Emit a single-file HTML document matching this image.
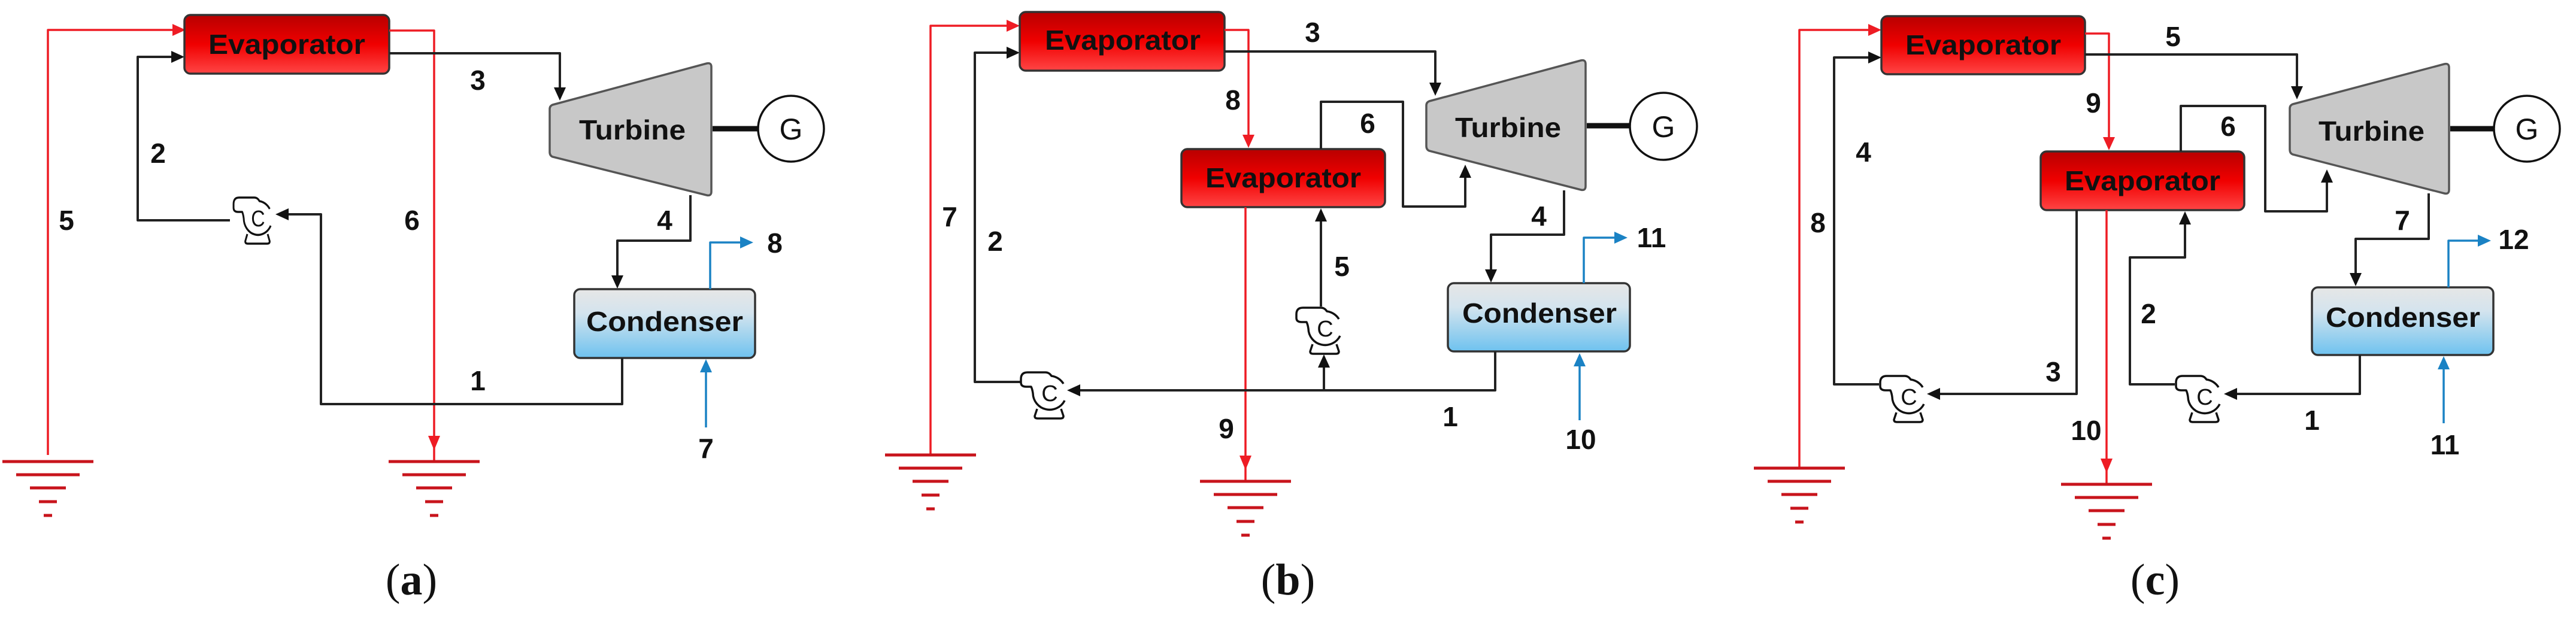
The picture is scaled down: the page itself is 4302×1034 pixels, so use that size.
<!DOCTYPE html>
<html><head><meta charset="utf-8"><style>html,body{margin:0;padding:0;background:#fff}svg{display:block}</style></head>
<body>
<svg width="4302" height="1034" viewBox="0 0 4302 1034" xmlns="http://www.w3.org/2000/svg" font-family="Liberation Sans, sans-serif">
<defs>
<linearGradient id="ev" x1="0" y1="0" x2="0" y2="1"><stop offset="0" stop-color="#b80000"/><stop offset="0.5" stop-color="#f00000"/><stop offset="1" stop-color="#ff4545"/></linearGradient>
<linearGradient id="cd" x1="0" y1="0" x2="0" y2="1"><stop offset="0" stop-color="#e6e6e6"/><stop offset="0.35" stop-color="#d4e4ee"/><stop offset="1" stop-color="#6ec2ef"/></linearGradient>
<g id="pump" fill="#fff" stroke="#111" stroke-width="3.5" stroke-linejoin="round">
<path d="M -20 26 L -24 38 Q -24 42 -19 42 L 19 42 Q 24 42 24 38 L 20 26"/>
<path d="M 24 -16 A 28 28 0 0 0 4 -29 Q 0 -35 -6 -35 L -36 -35 Q -47 -35 -47 -24 L -47 -18 Q -47 -11 -38 -11 L -30 -11 Q -28 -7 -27 0 A 28 28 0 0 0 26 12"/>
<text x="1" y="13" font-size="38" text-anchor="middle" stroke="none" fill="#111">C</text>
</g>
<g id="gnd" stroke="#c8141c" stroke-width="5">
<line x1="-76" y1="0" x2="76" y2="0"/><line x1="-53" y1="22" x2="53" y2="22"/><line x1="-30" y1="44" x2="30" y2="44"/><line x1="-15" y1="67" x2="15" y2="67"/><line x1="-7" y1="90" x2="7" y2="90"/>
</g>
</defs>
<style>
.k{fill:none;stroke:#222;stroke-width:4;stroke-linejoin:round}
.r{fill:none;stroke:#ee1c24;stroke-width:3.5;stroke-linejoin:round}
.b{fill:none;stroke:#1a82c4;stroke-width:3.5;stroke-linejoin:round}
.lbl{font-weight:bold;font-size:46px;fill:#111;text-anchor:middle}
.box{font-weight:bold;font-size:46px;fill:#111}
.cap{font-family:"Liberation Serif",serif;font-size:74px;fill:#111;text-anchor:middle}
</style>

<!-- ============ PANEL A ============ -->
<polyline class="r" points="80,760 80,50 290,50"/>
<polygon points="310,50 288,40 288,60" fill="#ee1c24"/>
<polyline class="k" points="384,368 230,368 230,95 290,95"/>
<polygon points="308,95 286,85 286,105" fill="#111"/>
<rect x="308" y="25" width="342" height="98" rx="10" fill="url(#ev)" stroke="#333" stroke-width="3.5"/>
<text class="box" x="348" y="90" textLength="262" lengthAdjust="spacingAndGlyphs">Evaporator</text>
<polyline class="r" points="650,51 725,51 725,771"/>
<polygon points="725,752 715,728 735,728" fill="#ee1c24"/>
<use href="#gnd" x="725" y="771"/>
<use href="#gnd" x="80" y="771"/>
<polyline class="k" points="650,89 935,89 935,150"/>
<polygon points="935,168 925,146 945,146" fill="#111"/>
<path d="M 923 175 L 1180 106 Q 1188 104 1188 112 L 1188 320 Q 1188 328 1180 326 L 923 262 Q 918 260 918 254 L 918 182 Q 918 177 923 175 Z" fill="#c8c8c8" stroke="#555" stroke-width="3.5"/>
<text class="box" x="967" y="233" textLength="178" lengthAdjust="spacingAndGlyphs">Turbine</text>
<line x1="1190" y1="215" x2="1266" y2="215" stroke="#111" stroke-width="9"/>
<circle cx="1321" cy="215" r="55" fill="#fff" stroke="#111" stroke-width="3.5"/>
<text x="1321" y="233" font-size="50" text-anchor="middle" fill="#111">G</text>
<polyline class="k" points="1153,326 1153,402 1031,402 1031,462"/>
<polygon points="1031,482 1021,460 1041,460" fill="#111"/>
<rect x="959" y="483" width="302" height="115" rx="10" fill="url(#cd)" stroke="#333" stroke-width="3.5"/>
<text class="box" x="979" y="553" textLength="262" lengthAdjust="spacingAndGlyphs">Condenser</text>
<polyline class="b" points="1186,483 1186,405 1240,405"/>
<polygon points="1258,405 1236,395 1236,415" fill="#1a82c4"/>
<polyline class="b" points="1179,714 1179,618"/>
<polygon points="1179,600 1169,622 1189,622" fill="#1a82c4"/>
<polyline class="k" points="1039,598 1039,675 536,675 536,358 478,358"/>
<polygon points="460,358 482,348 482,368" fill="#111"/>
<use href="#pump" transform="translate(430,365) scale(0.85,1)"/>
<text class="lbl" x="798" y="150">3</text>
<text class="lbl" x="264" y="272">2</text>
<text class="lbl" x="111" y="384">5</text>
<text class="lbl" x="688" y="384">6</text>
<text class="lbl" x="1110" y="384">4</text>
<text class="lbl" x="798" y="652">1</text>
<text class="lbl" x="1294" y="422">8</text>
<text class="lbl" x="1179" y="765">7</text>
<text class="cap" x="687" y="993">(<tspan font-weight="bold">a</tspan>)</text>

<!-- ============ PANEL B ============ -->
<polyline class="r" points="1554,760 1554,43 1685,43"/>
<polygon points="1703,43 1681,33 1681,53" fill="#ee1c24"/>
<polyline class="k" points="1712,638 1628,638 1628,88 1685,88"/>
<polygon points="1703,88 1681,78 1681,98" fill="#111"/>
<rect x="1703" y="20" width="342" height="98" rx="10" fill="url(#ev)" stroke="#333" stroke-width="3.5"/>
<text class="box" x="1745" y="83" textLength="260" lengthAdjust="spacingAndGlyphs">Evaporator</text>
<polyline class="r" points="2045,50 2085,50 2085,228"/>
<polygon points="2085,247 2075,225 2095,225" fill="#ee1c24"/>
<rect x="1973" y="249" width="340" height="97" rx="10" fill="url(#ev)" stroke="#333" stroke-width="3.5"/>
<text class="box" x="2013" y="313" textLength="260" lengthAdjust="spacingAndGlyphs">Evaporator</text>
<polyline class="r" points="2080,346 2080,804"/>
<polygon points="2080,785 2070,761 2090,761" fill="#ee1c24"/>
<use href="#gnd" x="1554" y="760"/>
<use href="#gnd" x="2080" y="804"/>
<polyline class="k" points="2045,86 2397,86 2397,142"/>
<polygon points="2397,160 2387,138 2407,138" fill="#111"/>
<path d="M 2387 169 L 2640 101 Q 2648 99 2648 107 L 2648 311 Q 2648 319 2640 317 L 2387 252 Q 2382 250 2382 244 L 2382 176 Q 2382 171 2387 169 Z" fill="#c8c8c8" stroke="#555" stroke-width="3.5"/>
<text class="box" x="2430" y="229" textLength="177" lengthAdjust="spacingAndGlyphs">Turbine</text>
<line x1="2650" y1="210" x2="2724" y2="210" stroke="#111" stroke-width="9"/>
<circle cx="2778" cy="211" r="56" fill="#fff" stroke="#111" stroke-width="3.5"/>
<text x="2778" y="229" font-size="50" text-anchor="middle" fill="#111">G</text>
<polyline class="k" points="2206,249 2206,170 2343,170 2343,345 2447,345 2447,294"/>
<polygon points="2447,275 2437,297 2457,297" fill="#111"/>
<polyline class="k" points="2612,318 2612,392 2490,392 2490,452"/>
<polygon points="2490,472 2480,450 2500,450" fill="#111"/>
<rect x="2418" y="473" width="304" height="114" rx="10" fill="url(#cd)" stroke="#333" stroke-width="3.5"/>
<text class="box" x="2442" y="539" textLength="258" lengthAdjust="spacingAndGlyphs">Condenser</text>
<polyline class="b" points="2645,473 2645,397 2700,397"/>
<polygon points="2718,397 2696,387 2696,407" fill="#1a82c4"/>
<polyline class="b" points="2638,702 2638,608"/>
<polygon points="2638,590 2628,612 2648,612" fill="#1a82c4"/>
<polyline class="k" points="2497,587 2497,652 1800,652"/>
<polygon points="1782,652 1804,642 1804,662" fill="#111"/>
<polyline class="k" points="2211,652 2211,610"/>
<polygon points="2211,592 2201,614 2221,614" fill="#111"/>
<polyline class="k" points="2206,512 2206,368"/>
<polygon points="2206,348 2196,370 2216,370" fill="#111"/>
<use href="#pump" transform="translate(2212,549)"/>
<use href="#pump" transform="translate(1752,657)"/>
<text class="lbl" x="2192" y="70">3</text>
<text class="lbl" x="2059" y="183">8</text>
<text class="lbl" x="2284" y="222">6</text>
<text class="lbl" x="1586" y="378">7</text>
<text class="lbl" x="1662" y="419">2</text>
<text class="lbl" x="2570" y="377">4</text>
<text class="lbl" x="2241" y="461">5</text>
<text class="lbl" x="2758" y="413">11</text>
<text class="lbl" x="2422" y="712">1</text>
<text class="lbl" x="2048" y="732">9</text>
<text class="lbl" x="2640" y="750">10</text>
<text class="cap" x="2151" y="993">(<tspan font-weight="bold">b</tspan>)</text>

<!-- ============ PANEL C ============ -->
<polyline class="r" points="3005,782 3005,50 3124,50"/>
<polygon points="3142,50 3120,40 3120,60" fill="#ee1c24"/>
<polyline class="k" points="3138,642 3063,642 3063,96 3124,96"/>
<polygon points="3142,96 3120,86 3120,106" fill="#111"/>
<rect x="3142" y="27" width="340" height="97" rx="10" fill="url(#ev)" stroke="#333" stroke-width="3.5"/>
<text class="box" x="3182" y="91" textLength="260" lengthAdjust="spacingAndGlyphs">Evaporator</text>
<polyline class="r" points="3482,56 3522,56 3522,232"/>
<polygon points="3522,251 3512,229 3532,229" fill="#ee1c24"/>
<rect x="3408" y="253" width="340" height="98" rx="10" fill="url(#ev)" stroke="#333" stroke-width="3.5"/>
<text class="box" x="3448" y="318" textLength="260" lengthAdjust="spacingAndGlyphs">Evaporator</text>
<polyline class="r" points="3518,351 3518,809"/>
<polygon points="3518,790 3508,766 3528,766" fill="#ee1c24"/>
<use href="#gnd" x="3005" y="782"/>
<use href="#gnd" x="3518" y="809"/>
<polyline class="k" points="3482,91 3836,91 3836,148"/>
<polygon points="3836,166 3826,144 3846,144" fill="#111"/>
<path d="M 3829 174 L 4082 107 Q 4090 105 4090 113 L 4090 317 Q 4090 325 4082 323 L 3829 258 Q 3824 256 3824 250 L 3824 181 Q 3824 176 3829 174 Z" fill="#c8c8c8" stroke="#555" stroke-width="3.5"/>
<text class="box" x="3872" y="235" textLength="177" lengthAdjust="spacingAndGlyphs">Turbine</text>
<line x1="4092" y1="215" x2="4166" y2="215" stroke="#111" stroke-width="9"/>
<circle cx="4220" cy="215" r="55" fill="#fff" stroke="#111" stroke-width="3.5"/>
<text x="4220" y="233" font-size="50" text-anchor="middle" fill="#111">G</text>
<polyline class="k" points="3642,253 3642,177 3783,177 3783,353 3886,353 3886,302"/>
<polygon points="3886,283 3876,305 3896,305" fill="#111"/>
<polyline class="k" points="4056,323 4056,399 3934,399 3934,458"/>
<polygon points="3934,478 3924,456 3944,456" fill="#111"/>
<rect x="3861" y="480" width="303" height="113" rx="10" fill="url(#cd)" stroke="#333" stroke-width="3.5"/>
<text class="box" x="3884" y="546" textLength="258" lengthAdjust="spacingAndGlyphs">Condenser</text>
<polyline class="b" points="4089,480 4089,402 4142,402"/>
<polygon points="4160,402 4138,392 4138,412" fill="#1a82c4"/>
<polyline class="b" points="4081,707 4081,613"/>
<polygon points="4081,595 4071,617 4091,617" fill="#1a82c4"/>
<polyline class="k" points="3941,593 3941,658 3732,658"/>
<polygon points="3714,658 3736,648 3736,668" fill="#111"/>
<polyline class="k" points="3632,642 3557,642 3557,430 3649,430 3649,372"/>
<polygon points="3649,353 3639,375 3659,375" fill="#111"/>
<polyline class="k" points="3468,351 3468,658 3236,658"/>
<polygon points="3218,658 3240,648 3240,668" fill="#111"/>
<use href="#pump" transform="translate(3187,663)"/>
<use href="#pump" transform="translate(3681,663)"/>
<text class="lbl" x="3629" y="77">5</text>
<text class="lbl" x="3496" y="188">9</text>
<text class="lbl" x="3721" y="227">6</text>
<text class="lbl" x="3112" y="270">4</text>
<text class="lbl" x="3036" y="388">8</text>
<text class="lbl" x="4012" y="384">7</text>
<text class="lbl" x="4198" y="416">12</text>
<text class="lbl" x="3588" y="540">2</text>
<text class="lbl" x="3429" y="637">3</text>
<text class="lbl" x="3861" y="718">1</text>
<text class="lbl" x="3484" y="735">10</text>
<text class="lbl" x="4083" y="759">11</text>
<text class="cap" x="3599" y="993">(<tspan font-weight="bold">c</tspan>)</text>
</svg>
</body></html>
